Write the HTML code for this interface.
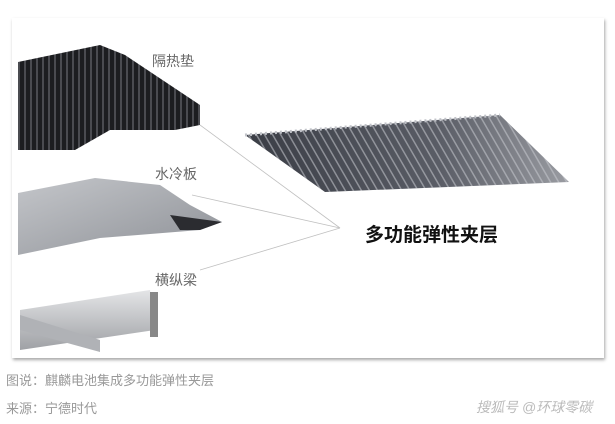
<!DOCTYPE html>
<html><head><meta charset="utf-8"><style>
body{margin:0;width:615px;height:424px;background:#fff;overflow:hidden;position:relative;font-family:"Liberation Sans","Noto Sans CJK SC",sans-serif}
.card{position:absolute;left:12px;top:18px;width:592px;height:340px;background:#fff;box-shadow:1px 2px 3px rgba(0,0,0,.35)}
.t{position:absolute;color:#999;font-size:13px;white-space:nowrap}
</style></head><body>
<div class="card"></div>
<svg width="615" height="424" style="position:absolute;left:0;top:0">
<defs>
<linearGradient id="el" x1="0" y1="0" x2="1" y2="0"><stop offset="0" stop-color="#3a3d45"/><stop offset="0.6" stop-color="#5a5d66"/><stop offset="1" stop-color="#9a9ca2"/></linearGradient>
<pattern id="str" width="7" height="10" patternUnits="userSpaceOnUse" patternTransform="rotate(-30)"><rect width="7" height="10" fill="none"/><rect width="1.5" height="10" fill="#c8cad0"/></pattern>
<linearGradient id="cp" x1="0" y1="0" x2="1" y2="1"><stop offset="0" stop-color="#c4c6ca"/><stop offset="1" stop-color="#8d9096"/></linearGradient>
<linearGradient id="bm" x1="0" y1="0" x2="0" y2="1"><stop offset="0" stop-color="#e4e5e7"/><stop offset="1" stop-color="#9fa1a5"/></linearGradient>
<pattern id="fin" width="6" height="8" patternUnits="userSpaceOnUse"><rect width="6" height="8" fill="#1c1d20"/><rect width="2" height="8" fill="#4a4b50"/></pattern>
</defs>
<polygon points="18,62 100,45 125,55 200,105 200,125 175,130 110,130 75,150 18,150" fill="url(#fin)"/>
<polygon points="18,193 95,178 160,185 190,205 222,222 200,230 100,238 18,255" fill="url(#cp)"/>
<polygon points="170,215 222,222 200,230 180,230" fill="#2b2c30"/>
<polygon points="20,310 150,290 155,330 20,350" fill="url(#bm)"/>
<polygon points="20,315 100,340 100,352 20,330" fill="#b0b2b6"/>
<rect x="150" y="292" width="8" height="45" fill="#888"/>
<polygon points="245,135 500,115 569,182 325,192" fill="url(#el)"/>
<polygon points="245,135 500,115 569,182 325,192" fill="url(#str)" opacity=".55"/>
<line x1="245" y1="135" x2="500" y2="115" stroke="#c0c2c8" stroke-width="3" stroke-dasharray="2 3"/>
<g stroke="#c0c0c0" stroke-width="0.8" fill="none">
<line x1="200" y1="125" x2="340" y2="228"/>
<line x1="192" y1="195" x2="340" y2="228"/>
<line x1="200" y1="270" x2="340" y2="228"/>
</g>
</svg>
<div class="t" style="left:152px;top:51px;font-size:14px;color:#666">隔热垫</div>
<div class="t" style="left:155px;top:164px;font-size:14px;color:#666">水冷板</div>
<div class="t" style="left:155px;top:270px;font-size:14px;color:#666">横纵梁</div>
<div class="t" style="left:365px;top:220px;font-size:19px;font-weight:bold;color:#111">多功能弹性夹层</div>
<div class="t" style="left:6px;top:370px">图说：麒麟电池集成多功能弹性夹层</div>
<div class="t" style="left:6px;top:398px">来源：宁德时代</div>
<div class="t" style="left:476px;top:397px;color:#bbb;font-style:italic;font-size:14px">搜狐号 @环球零碳</div>
</body></html>
